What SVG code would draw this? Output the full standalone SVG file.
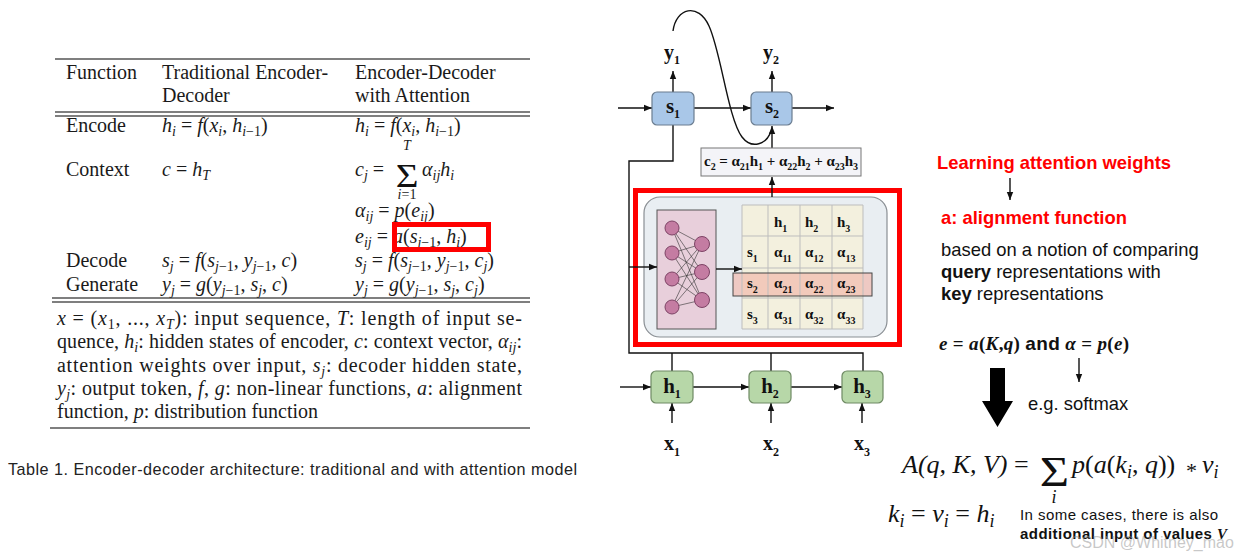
<svg xmlns="http://www.w3.org/2000/svg" width="1250" height="559" viewBox="0 0 1250 559">
<defs>
<marker id="ah" viewBox="0 0 10 10" refX="10" refY="5" markerWidth="9" markerHeight="8" markerUnits="userSpaceOnUse" orient="auto"><path d="M0,1 L10,5 L0,9 z" fill="#111"/></marker>
</defs>
<style>
.t{font-family:"Liberation Serif",serif;font-size:20px;fill:#1a1a1a}
.i{font-style:italic}
.s{font-size:14px}
.cap{font-family:"Liberation Sans",sans-serif;font-size:16.2px;fill:#222}
.rule{stroke:#555;stroke-width:1.3;fill:none}
.b{font-family:"Liberation Serif",serif;font-weight:bold;fill:#111}
.ln{stroke:#111;stroke-width:1.4;fill:none}
.arr{stroke:#111;stroke-width:1.4;fill:none;marker-end:url(#ah)}
.sbox{fill:#a9c7e8;stroke:#6b7d90;stroke-width:1.2}
.hbox{fill:#b7d7a8;stroke:#6f8a64;stroke-width:1.2}
.sans{font-family:"Liberation Sans",Arial,sans-serif;font-size:18.4px;fill:#111}
.red{fill:#ff0000;font-weight:bold}
.gl{stroke:#bdbdbd;stroke-width:1;fill:none}
.nn{fill:#c47ca2;stroke:#7d4365;stroke-width:1}
.w{stroke:#333;stroke-width:0.6}
.g{font-size:15px}
.gs{font-size:10px}
.mf{font-family:"Liberation Serif",serif;font-size:26px;fill:#111}
.ms{font-size:18px}
.sig{font-family:"Liberation Serif",serif;fill:#111}
</style>
<rect width="1250" height="559" fill="#fff"/>

<!-- Table -->
<g id="table">
<line class="rule" x1="55" y1="59" x2="530" y2="59"/>
<line class="rule" x1="55" y1="112" x2="530" y2="112"/>
<line class="rule" x1="55" y1="116" x2="530" y2="116"/>
<line class="rule" x1="52" y1="298" x2="530" y2="298"/>
<line class="rule" x1="52" y1="302" x2="530" y2="302"/>
<line class="rule" x1="50" y1="428" x2="530" y2="428"/>

<text class="t" x="66" y="79">Function</text>
<text class="t" x="162" y="79">Traditional Encoder-</text>
<text class="t" x="162" y="102">Decoder</text>
<text class="t" x="355" y="79">Encoder-Decoder</text>
<text class="t" x="355" y="102">with Attention</text>

<text class="t" x="66" y="132">Encode</text>
<text class="t" x="162" y="132"><tspan class="i">h</tspan><tspan class="s i" dy="4">i</tspan><tspan dy="-4"> = </tspan><tspan class="i">f</tspan>(<tspan class="i">x</tspan><tspan class="s i" dy="4">i</tspan><tspan dy="-4">, </tspan><tspan class="i">h</tspan><tspan class="s" dy="4"><tspan class="i">i</tspan>−1</tspan><tspan dy="-4">)</tspan></text>
<text class="t" x="355" y="132"><tspan class="i">h</tspan><tspan class="s i" dy="4">i</tspan><tspan dy="-4"> = </tspan><tspan class="i">f</tspan>(<tspan class="i">x</tspan><tspan class="s i" dy="4">i</tspan><tspan dy="-4">, </tspan><tspan class="i">h</tspan><tspan class="s" dy="4"><tspan class="i">i</tspan>−1</tspan><tspan dy="-4">)</tspan></text>

<text class="t" x="66" y="176">Context</text>
<text class="t" x="162" y="176"><tspan class="i">c</tspan> = <tspan class="i">h</tspan><tspan class="s i" dy="4">T</tspan></text>
<text class="t" x="355" y="176"><tspan class="i">c</tspan><tspan class="s i" dy="4">j</tspan><tspan dy="-4"> =</tspan></text>
<text class="t s i" x="407" y="150" text-anchor="middle">T</text>
<text class="sig" transform="translate(407,187) scale(1.15,1)" text-anchor="middle" font-size="34">Σ</text>
<text class="t s" x="407" y="199" text-anchor="middle"><tspan class="i">i</tspan>=1</text>
<text class="t" x="422" y="176"><tspan class="i">α</tspan><tspan class="s i" dy="4">ij</tspan><tspan class="i" dy="-4">h</tspan><tspan class="s i" dy="4">i</tspan></text>

<text class="t" x="355" y="217"><tspan class="i">α</tspan><tspan class="s i" dy="4">ij</tspan><tspan dy="-4"> = </tspan><tspan class="i">p</tspan>(<tspan class="i">e</tspan><tspan class="s i" dy="4">ij</tspan><tspan dy="-4">)</tspan></text>
<text class="t" x="355" y="243"><tspan class="i">e</tspan><tspan class="s i" dy="4">ij</tspan><tspan dy="-4"> = </tspan><tspan class="i">a</tspan>(<tspan class="i">s</tspan><tspan class="s" dy="4"><tspan class="i">j</tspan>−1</tspan><tspan dy="-4">, </tspan><tspan class="i">h</tspan><tspan class="s i" dy="4">i</tspan><tspan dy="-4">)</tspan></text>
<rect x="394.5" y="224.5" width="94" height="25" fill="none" stroke="#ff0000" stroke-width="5"/>

<text class="t" x="66" y="267">Decode</text>
<text class="t" x="162" y="267"><tspan class="i">s</tspan><tspan class="s i" dy="4">j</tspan><tspan dy="-4"> = </tspan><tspan class="i">f</tspan>(<tspan class="i">s</tspan><tspan class="s" dy="4"><tspan class="i">j</tspan>−1</tspan><tspan dy="-4">, </tspan><tspan class="i">y</tspan><tspan class="s" dy="4"><tspan class="i">j</tspan>−1</tspan><tspan dy="-4">, </tspan><tspan class="i">c</tspan>)</text>
<text class="t" x="355" y="267"><tspan class="i">s</tspan><tspan class="s i" dy="4">j</tspan><tspan dy="-4"> = </tspan><tspan class="i">f</tspan>(<tspan class="i">s</tspan><tspan class="s" dy="4"><tspan class="i">j</tspan>−1</tspan><tspan dy="-4">, </tspan><tspan class="i">y</tspan><tspan class="s" dy="4"><tspan class="i">j</tspan>−1</tspan><tspan dy="-4">, </tspan><tspan class="i">c</tspan><tspan class="s i" dy="4">j</tspan><tspan dy="-4">)</tspan></text>

<text class="t" x="66" y="291">Generate</text>
<text class="t" x="162" y="291"><tspan class="i">y</tspan><tspan class="s i" dy="4">j</tspan><tspan dy="-4"> = </tspan><tspan class="i">g</tspan>(<tspan class="i">y</tspan><tspan class="s" dy="4"><tspan class="i">j</tspan>−1</tspan><tspan dy="-4">, </tspan><tspan class="i">s</tspan><tspan class="s i" dy="4">j</tspan><tspan dy="-4">, </tspan><tspan class="i">c</tspan>)</text>
<text class="t" x="355" y="291"><tspan class="i">y</tspan><tspan class="s i" dy="4">j</tspan><tspan dy="-4"> = </tspan><tspan class="i">g</tspan>(<tspan class="i">y</tspan><tspan class="s" dy="4"><tspan class="i">j</tspan>−1</tspan><tspan dy="-4">, </tspan><tspan class="i">s</tspan><tspan class="s i" dy="4">j</tspan><tspan dy="-4">, </tspan><tspan class="i">c</tspan><tspan class="s i" dy="4">j</tspan><tspan dy="-4">)</tspan></text>

<text class="t" x="57" y="325" textLength="465" lengthAdjust="spacing"><tspan class="i">x</tspan> = (<tspan class="i">x</tspan><tspan class="s" dy="4">1</tspan><tspan dy="-4">, ..., </tspan><tspan class="i">x</tspan><tspan class="s i" dy="4">T</tspan><tspan dy="-4">): input sequence, </tspan><tspan class="i">T</tspan>: length of input se-</text>
<text class="t" x="57" y="348" textLength="465" lengthAdjust="spacing">quence, <tspan class="i">h</tspan><tspan class="s i" dy="4">i</tspan><tspan dy="-4">: hidden states of encoder, </tspan><tspan class="i">c</tspan>: context vector, <tspan class="i">α</tspan><tspan class="s i" dy="4">ij</tspan><tspan dy="-4">:</tspan></text>
<text class="t" x="57" y="372" textLength="465" lengthAdjust="spacing">attention weights over input, <tspan class="i">s</tspan><tspan class="s i" dy="4">j</tspan><tspan dy="-4">: decoder hidden state,</tspan></text>
<text class="t" x="57" y="395" textLength="465" lengthAdjust="spacing"><tspan class="i">y</tspan><tspan class="s i" dy="4">j</tspan><tspan dy="-4">: output token, </tspan><tspan class="i">f</tspan>, <tspan class="i">g</tspan>: non-linear functions, <tspan class="i">a</tspan>: alignment</text>
<text class="t" x="57" y="418">function, <tspan class="i">p</tspan>: distribution function</text>

<text class="cap" x="8" y="475" textLength="569" lengthAdjust="spacing">Table 1.  Encoder-decoder architecture: traditional and with attention model</text>
</g>

<!-- Middle diagram: attention module -->
<g id="attention-module">
<rect x="644" y="197" width="243" height="140" rx="16" fill="#e9eef2" stroke="#8a8f94" stroke-width="1.2"/>
<g id="alignment-nn">
<rect x="657" y="210" width="59" height="119" fill="#e8cfdb" stroke="#555" stroke-width="1"/>
<g class="w">
<line x1="672" y1="228" x2="702" y2="244"/><line x1="672" y1="228" x2="702" y2="272"/><line x1="672" y1="228" x2="702" y2="300"/>
<line x1="672" y1="253" x2="702" y2="244"/><line x1="672" y1="253" x2="702" y2="272"/><line x1="672" y1="253" x2="702" y2="300"/>
<line x1="672" y1="279" x2="702" y2="244"/><line x1="672" y1="279" x2="702" y2="272"/><line x1="672" y1="279" x2="702" y2="300"/>
<line x1="672" y1="307" x2="702" y2="244"/><line x1="672" y1="307" x2="702" y2="272"/><line x1="672" y1="307" x2="702" y2="300"/>
</g>
<circle class="nn" cx="672" cy="228" r="7"/><circle class="nn" cx="672" cy="253" r="7"/><circle class="nn" cx="672" cy="279" r="7"/><circle class="nn" cx="672" cy="307" r="7"/>
<circle class="nn" cx="702" cy="244" r="7.5"/><circle class="nn" cx="702" cy="272" r="7.5"/><circle class="nn" cx="702" cy="300" r="7.5"/>
</g>
<g id="weight-grid">
<rect x="742" y="205" width="121" height="124" fill="#f3f0de"/>
<rect x="733" y="273" width="139" height="23" fill="#f2b0a4" fill-opacity="0.6"/>
<path class="gl" d="M742,205 H863 V329 H742 Z M768,205 V329 M800,205 V329 M832,205 V329 M742,236 H863 M742,268 H863 M742,298 H863"/>
<rect x="733" y="273" width="139" height="23" fill="none" stroke="#444" stroke-width="1"/>
<text class="b g" x="774" y="227">h<tspan class="gs" dy="5">1</tspan></text>
<text class="b g" x="805" y="227">h<tspan class="gs" dy="5">2</tspan></text>
<text class="b g" x="837" y="227">h<tspan class="gs" dy="5">3</tspan></text>
<text class="b g" x="747" y="257">s<tspan class="gs" dy="5">1</tspan></text>
<text class="b g" x="774" y="257">α<tspan class="gs" dy="5">11</tspan></text>
<text class="b g" x="805" y="257">α<tspan class="gs" dy="5">12</tspan></text>
<text class="b g" x="837" y="257">α<tspan class="gs" dy="5">13</tspan></text>
<text class="b g" x="747" y="288">s<tspan class="gs" dy="5">2</tspan></text>
<text class="b g" x="774" y="288">α<tspan class="gs" dy="5">21</tspan></text>
<text class="b g" x="805" y="288">α<tspan class="gs" dy="5">22</tspan></text>
<text class="b g" x="837" y="288">α<tspan class="gs" dy="5">23</tspan></text>
<text class="b g" x="747" y="319">s<tspan class="gs" dy="5">3</tspan></text>
<text class="b g" x="774" y="319">α<tspan class="gs" dy="5">31</tspan></text>
<text class="b g" x="805" y="319">α<tspan class="gs" dy="5">32</tspan></text>
<text class="b g" x="837" y="319">α<tspan class="gs" dy="5">33</tspan></text>
</g>
<rect x="635.5" y="190.5" width="264" height="154" fill="none" stroke="#ff0000" stroke-width="5"/>
</g>

<!-- Connectors -->
<g id="connectors">
<line class="arr" x1="618" y1="108" x2="652" y2="108"/>
<line class="arr" x1="694" y1="108" x2="751" y2="108"/>
<line class="arr" x1="792" y1="108" x2="834" y2="108"/>
<line class="arr" x1="673" y1="92" x2="673" y2="71"/>
<line class="arr" x1="772" y1="92" x2="772" y2="71"/>
<path class="ln" d="M673,31 C676,8 698,2 709,26 C721,52 728,118 742,137 C752,150 767,144 771,131"/>
<line class="arr" x1="772" y1="148" x2="772" y2="126"/>
<line class="arr" x1="772" y1="197" x2="772" y2="177"/>
<path class="ln" d="M673,125 V161 H629 V353 H863 V371 M672,353 V371 M771,353 V371"/>
<line class="arr" x1="629" y1="267" x2="657" y2="267"/>
<line class="arr" x1="716" y1="269" x2="742" y2="269"/>
<line class="arr" x1="620" y1="387" x2="651" y2="387"/>
<line class="arr" x1="693" y1="387" x2="749" y2="387"/>
<line class="arr" x1="791" y1="387" x2="842" y2="387"/>
<line class="arr" x1="672" y1="423" x2="672" y2="403"/>
<line class="arr" x1="771" y1="423" x2="771" y2="403"/>
<line class="arr" x1="862" y1="423" x2="862" y2="403"/>
</g>

<g id="y1"><text class="b" font-size="20" x="664" y="59">y<tspan font-size="12" dy="5">1</tspan></text></g>
<g id="y2"><text class="b" font-size="20" x="763" y="59">y<tspan font-size="12" dy="5">2</tspan></text></g>
<g id="s1"><rect class="sbox" x="652" y="92" width="42" height="33" rx="5"/><text class="b" font-size="21" x="673" y="113" text-anchor="middle">s<tspan font-size="12" dy="5">1</tspan></text></g>
<g id="s2"><rect class="sbox" x="751" y="92" width="41" height="33" rx="5"/><text class="b" font-size="21" x="772" y="113" text-anchor="middle">s<tspan font-size="12" dy="5">2</tspan></text></g>
<g id="c2"><rect x="701" y="148" width="160" height="28" fill="#f4f4f8" stroke="#777" stroke-width="1"/><text class="b" font-size="15" x="704" y="166" textLength="154" lengthAdjust="spacing">c<tspan font-size="10" dy="4">2</tspan><tspan dy="-4"> = α</tspan><tspan font-size="10" dy="4">21</tspan><tspan dy="-4">h</tspan><tspan font-size="10" dy="4">1</tspan><tspan dy="-4"> + α</tspan><tspan font-size="10" dy="4">22</tspan><tspan dy="-4">h</tspan><tspan font-size="10" dy="4">2</tspan><tspan dy="-4"> + α</tspan><tspan font-size="10" dy="4">23</tspan><tspan dy="-4">h</tspan><tspan font-size="10" dy="4">3</tspan></text></g>
<g id="h1"><rect class="hbox" x="651" y="371" width="42" height="32" rx="5"/><text class="b" font-size="21" x="672" y="393" text-anchor="middle">h<tspan font-size="12" dy="5">1</tspan></text></g>
<g id="h2"><rect class="hbox" x="749" y="371" width="42" height="32" rx="5"/><text class="b" font-size="21" x="770" y="393" text-anchor="middle">h<tspan font-size="12" dy="5">2</tspan></text></g>
<g id="h3"><rect class="hbox" x="842" y="371" width="41" height="32" rx="5"/><text class="b" font-size="21" x="862" y="393" text-anchor="middle">h<tspan font-size="12" dy="5">3</tspan></text></g>
<g id="x1"><text class="b" font-size="20" x="672" y="450" text-anchor="middle">x<tspan font-size="12" dy="6">1</tspan></text></g>
<g id="x2"><text class="b" font-size="20" x="771" y="450" text-anchor="middle">x<tspan font-size="12" dy="6">2</tspan></text></g>
<g id="x3"><text class="b" font-size="20" x="862" y="450" text-anchor="middle">x<tspan font-size="12" dy="6">3</tspan></text></g>

<!-- Right notes -->
<g id="notes">
<text class="sans red" x="937" y="169">Learning attention weights</text>
<line class="arr" x1="1010" y1="178" x2="1010" y2="200"/>
<text class="sans red" x="941" y="224">a: alignment function</text>
<text class="sans" x="941" y="256">based on a notion of comparing</text>
<text class="sans" x="941" y="278"><tspan font-weight="bold">query</tspan> representations with</text>
<text class="sans" x="941" y="300"><tspan font-weight="bold">key</tspan> representations</text>
<text x="939" y="350" font-size="19" font-family="Liberation Serif,serif" font-weight="bold" fill="#111" textLength="190" lengthAdjust="spacing"><tspan font-style="italic">e</tspan> = <tspan font-style="italic">a</tspan>(<tspan font-style="italic">K</tspan>,<tspan font-style="italic">q</tspan>) <tspan font-family="Liberation Sans,sans-serif">and</tspan> <tspan font-style="italic">α</tspan> = <tspan font-style="italic">p</tspan>(<tspan font-style="italic">e</tspan>)</text>
<line class="arr" x1="1079" y1="358" x2="1079" y2="382"/>
<text class="sans" x="1028" y="410">e.g. softmax</text>
<polygon points="990,368 1005,368 1005,401 1013,401 997.5,427 982,401 990,401" fill="#000"/>

<text class="mf i" x="902" y="473">A(q, K, V)</text>
<text class="mf" x="1014" y="473">=</text>
<text class="sig" transform="translate(1054.5,486) scale(1.2,1)" text-anchor="middle" font-size="42">Σ</text>
<text class="mf i ms" x="1054" y="503" text-anchor="middle">i</text>
<text class="mf" x="1072" y="473"><tspan class="i">p</tspan>(<tspan class="i">a</tspan>(<tspan class="i">k</tspan><tspan class="i ms" dy="5">i</tspan><tspan dy="-5">, </tspan><tspan class="i">q</tspan>))</text>
<text class="mf" x="1186" y="478" style="font-size:22px">*</text>
<text class="mf" x="1202" y="473"><tspan class="i">v</tspan><tspan class="i ms" dy="5">i</tspan></text>
<text class="mf" x="888" y="522"><tspan class="i">k</tspan><tspan class="i ms" dy="5">i</tspan><tspan dy="-5"> = </tspan><tspan class="i">v</tspan><tspan class="i ms" dy="5">i</tspan><tspan dy="-5"> = </tspan><tspan class="i">h</tspan><tspan class="i ms" dy="5">i</tspan></text>
<text class="sans" x="1020" y="520" style="font-size:15px" textLength="198" lengthAdjust="spacing">In some cases, there is also</text>
<text class="sans" x="1020" y="539" style="font-size:15px" font-weight="bold" textLength="207" lengthAdjust="spacing">additional input of values <tspan font-style="italic" font-family="Liberation Serif,serif">V</tspan></text>
<text x="1070" y="548" font-family="Liberation Sans,sans-serif" font-size="16" fill="#999" fill-opacity="0.55">CSDN @Whitney_mao</text>
</g>
</svg>
